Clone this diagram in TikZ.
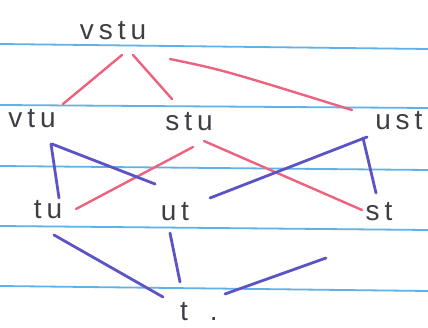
\documentclass[tikz,border=0pt]{standalone}
\usepackage{fontspec}
\setmainfont{Liberation Sans}
\newfontfamily\hand[LetterSpace=18]{Liberation Sans}
\usetikzlibrary{calc}
\definecolor{rule}{RGB}{95,178,232}
\definecolor{pinkink}{RGB}{238,98,125}
\definecolor{blueink}{RGB}{92,84,196}
\definecolor{pencil}{RGB}{62,62,68}
\tikzset{
  lbl/.style={anchor=base, inner sep=0pt, text=pencil, font=\hand\fontsize{28}{30}\selectfont},
  pinkedge/.style={draw=pinkink, line width=2.4pt, line cap=round},
  blueedge/.style={draw=blueink, line width=2.8pt, line cap=round},
  ruleline/.style={draw=rule, line width=1.8pt}
}
\begin{document}
\begin{tikzpicture}[x=1pt,y=-1pt]
\fill[white] (0,0) rectangle (428,328);
\useasboundingbox (0,0) rectangle (428,328);
% ruled paper
\draw[ruleline] (0,44) -- (428,49);
\draw[ruleline] (0,105) -- (428,108);
\draw[ruleline] (0,166) -- (428,170);
\draw[ruleline] (0,226) -- (428,230);
\draw[ruleline] (0,286) -- (428,291);
% labels
\node[lbl] (vstu) at (113,40) {vstu};
\node[lbl] (vtu) at (32,128) {vtu};
\node[lbl] (stu) at (189,131) {stu};
\node[lbl] (ust) at (399,130) {u\,st};
\node[lbl] (tu) at (48,219) {tu};
\node[lbl] (ut) at (175,221) {u\,t};
\node[lbl] (st) at (379,221) {st};
\node[lbl] (t) at (184,320) {t\rlap{\hspace{22pt}.}};
% pink edges
\draw[pinkedge] ($(vstu.base)+(9,15)$) -- ($(vtu.base)+(31,-24)$);
\draw[pinkedge] ($(vstu.base)+(20,15)$) -- ($(stu.base)+(-17,-32)$);
\draw[pinkedge] ($(vstu.base)+(57,19)$) .. controls ($(vstu.base)+(110,30)$) .. ($(ust.base)+(-47,-20)$);
\draw[pinkedge] ($(stu.base)+(4,16)$) -- ($(tu.base)+(28,-10)$);
\draw[pinkedge] ($(stu.base)+(15,10)$) -- ($(st.base)+(-17,-11)$);
% blue edges
\draw[blueedge] ($(vtu.base)+(19,16)$) -- ($(tu.base)+(11,-21)$);
\draw[blueedge] ($(vtu.base)+(20,16)$) -- ($(ut.base)+(-20,-37)$);
\draw[blueedge] ($(ust.base)+(-32,7)$) -- ($(ut.base)+(35,-23)$);
\draw[blueedge] ($(ust.base)+(-36,8)$) -- ($(st.base)+(-3,-28)$);
\draw[blueedge] ($(tu.base)+(6,16)$) -- ($(t.base)+(-21,-23)$);
\draw[blueedge] ($(ut.base)+(-5,12)$) -- ($(t.base)+(-4,-38)$);
\draw[blueedge] ($(t.base)+(41,-26)$) -- ($(st.base)+(-53,37)$);
\end{tikzpicture}
\end{document}
